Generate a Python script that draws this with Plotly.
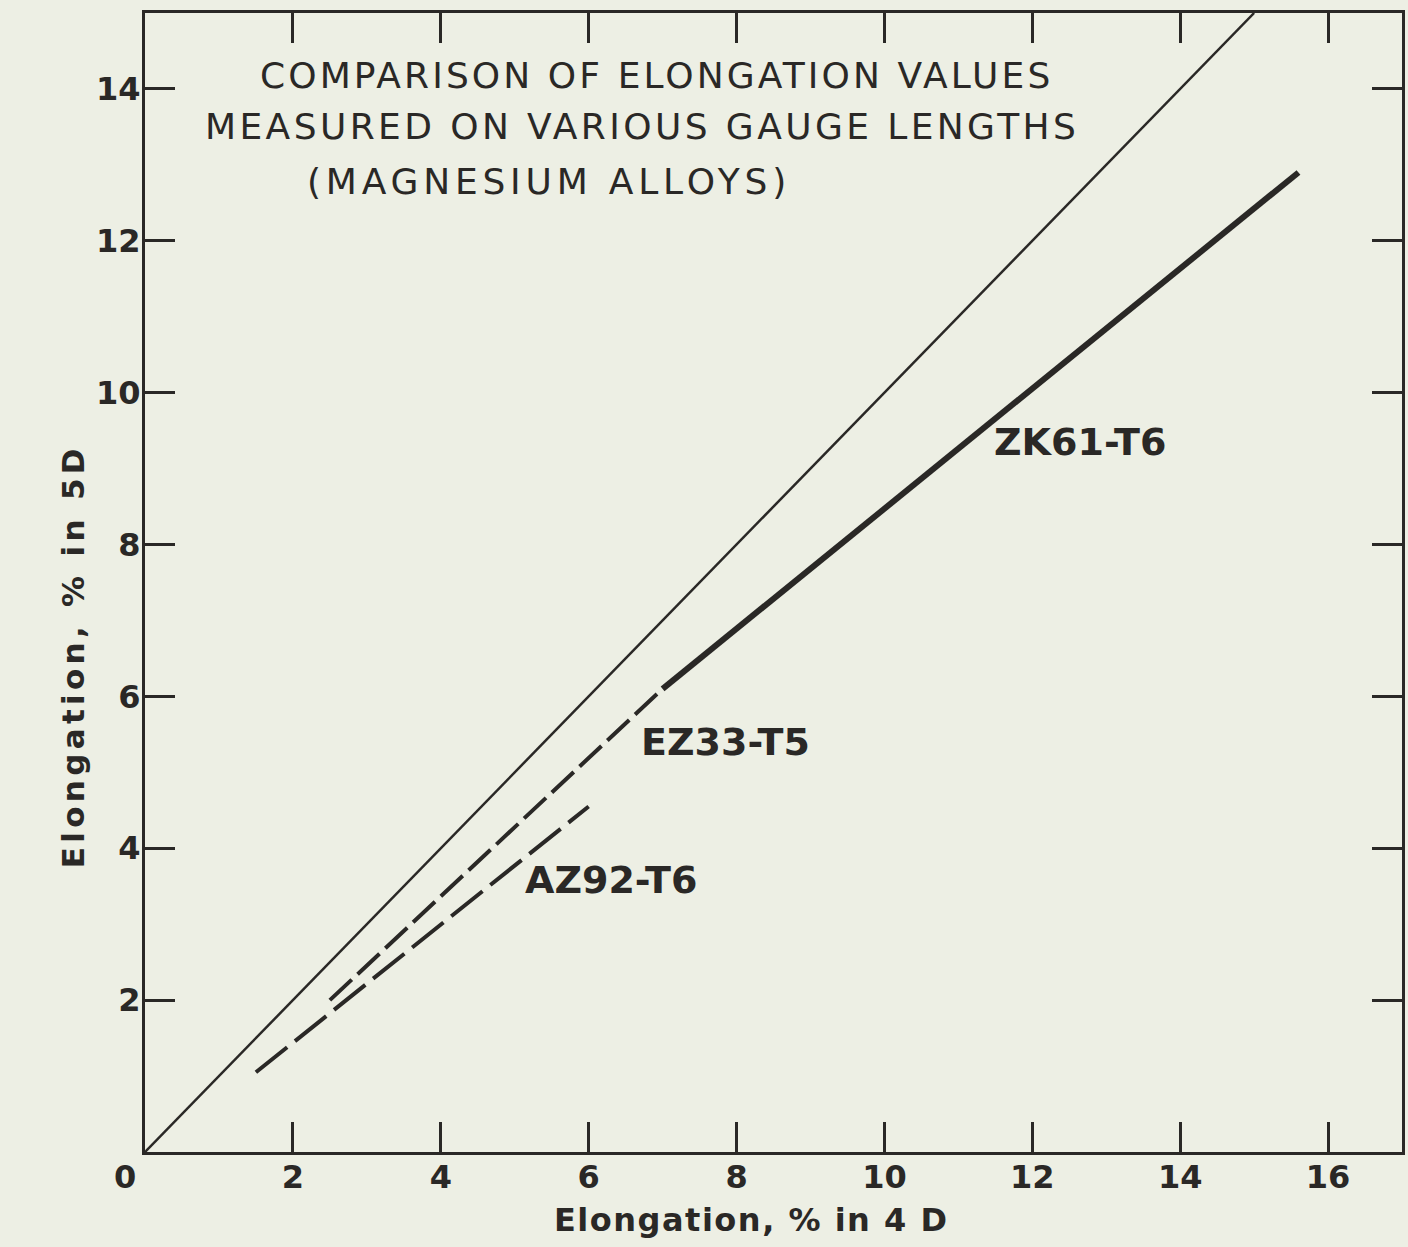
import plotly.graph_objects as go

# ---- data ----
equal_x = [0, 15]
equal_y = [0, 15]

zk61_x = [7.0, 15.6]
zk61_y = [6.1, 12.9]

ez33_x = [2.5, 7.0]
ez33_y = [2.0, 6.1]

az92_x = [1.5, 6.0]
az92_y = [1.05, 4.55]

x_ticks = [2, 4, 6, 8, 10, 12, 14, 16]
y_ticks = [2, 4, 6, 8, 10, 12, 14]

labels = ["ZK61-T6", "EZ33-T5", "AZ92-T6"]
label_x = [12.65, 7.85, 6.3]
label_y = [9.35, 5.4, 3.58]

title_lines = ["COMPARISON OF ELONGATION VALUES",
               "MEASURED ON VARIOUS GAUGE LENGTHS",
               "(MAGNESIUM ALLOYS)"]

INK = "#2a2826"
BG = "#edefe4"
FONT = "DejaVu Sans"

fig = go.Figure()
fig.add_trace(go.Scatter(x=equal_x, y=equal_y, mode="lines",
                         line=dict(color=INK, width=2.5), showlegend=False))
fig.add_trace(go.Scatter(x=zk61_x, y=zk61_y, mode="lines",
                         line=dict(color=INK, width=6), showlegend=False))
fig.add_trace(go.Scatter(x=ez33_x, y=ez33_y, mode="lines",
                         line=dict(color=INK, width=4, dash="30px,8px"), showlegend=False))
fig.add_trace(go.Scatter(x=az92_x, y=az92_y, mode="lines",
                         line=dict(color=INK, width=4, dash="40px,10px"), showlegend=False))

ann = []
for t, x, y in zip(labels, label_x, label_y):
    ann.append(dict(x=x, y=y, xref="x", yref="y", text=t, showarrow=False,
                    xanchor="center", yanchor="middle",
                    font=dict(family=FONT, size=38, color=INK, weight="bold")))

title_pos = [(258, 75), (203, 127), (305, 181)]
title_spacing = [3.1, 3.4, 4.8]
for t, (px, py), sp in zip(title_lines, title_pos, title_spacing):
    ann.append(dict(x=(px - 145) / 1260, y=1 - (py - 13) / 1139, xref="paper", yref="paper",
                    xanchor="left", yanchor="middle",
                    text='<span style="letter-spacing:%.1fpx">' % sp + t + '</span>',
                    showarrow=False,
                    font=dict(family=FONT, size=36, color=INK)))

# corner zero
ann.append(dict(x=0, y=0, xref="x", yref="y", text="0", showarrow=False,
                xanchor="center", yanchor="middle",
                xshift=-20, yshift=-25, font=dict(family=FONT, size=32, color=INK, weight="bold")))
# axis titles
ann.append(dict(x=(752 - 145) / 1260, y=-(1220 - 1152) / 1139, xref="paper", yref="paper",
                xanchor="center", yanchor="middle",
                text='<span style="letter-spacing:1.5px">Elongation, % in 4 D</span>',
                showarrow=False,
                font=dict(family=FONT, size=32, color=INK, weight="bold")))
ann.append(dict(x=-(145 - 73) / 1260, y=1 - (656 - 13) / 1139, xref="paper", yref="paper",
                xanchor="center", yanchor="middle",
                text='<span style="letter-spacing:4.3px">Elongation, % in 5D</span>',
                showarrow=False, textangle=-90,
                font=dict(family=FONT, size=31, color=INK, weight="bold")))

axis_common = dict(showgrid=False, zeroline=False, showline=True, linecolor=INK, linewidth=3,
                   mirror="ticks", ticks="inside", ticklen=30, tickwidth=3, tickcolor=INK,
                   tickfont=dict(family=FONT, size=32, color=INK, weight="bold"))
fig.update_xaxes(range=[0, 17], tickvals=x_ticks, ticktext=[str(v) for v in x_ticks],
                 ticklabelstandoff=-5, **axis_common)
fig.update_yaxes(range=[0, 15], tickvals=y_ticks, ticktext=[str(v) for v in y_ticks],
                 ticklabelstandoff=-5, **axis_common)

fig.update_layout(width=1408, height=1247, margin=dict(l=145, r=3, t=13, b=95),
                  paper_bgcolor=BG, plot_bgcolor=BG, annotations=ann,
                  font=dict(family=FONT, color=INK))
fig.write_html("out.html", config={"displayModeBar": False},
               post_script="document.body.style.margin='0px';document.body.style.background='#edefe4';")
